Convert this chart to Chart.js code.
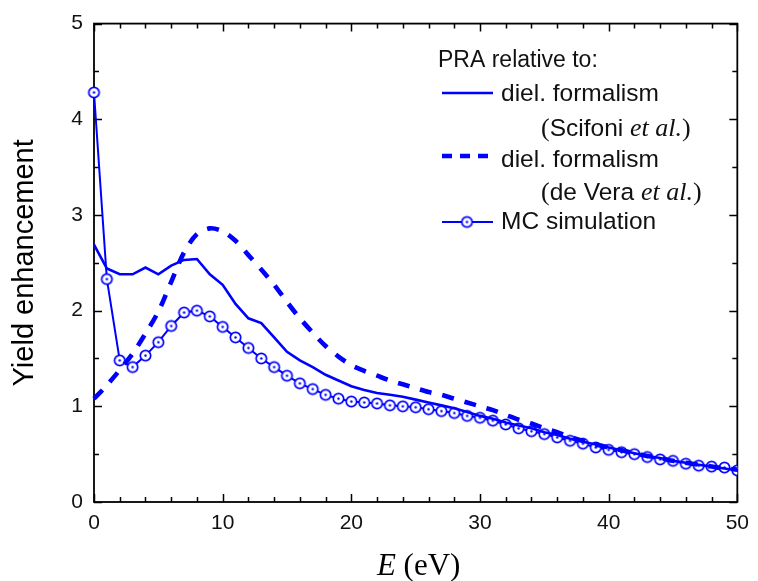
<!DOCTYPE html>
<html>
<head>
<meta charset="utf-8">
<script src="https://cdn.jsdelivr.net/npm/chart.js@4/dist/chart.umd.min.js"></script>
<style>
  html, body { margin: 0; padding: 0; background: #ffffff; }
  #wrap { width: 758px; height: 581px; }
</style>
</head>
<body>
<div id="wrap"><canvas id="chart" width="758" height="581"></canvas></div>
<script>
// Electron energy E (eV)
const energy = [0, 1, 2, 3, 4, 5, 6, 7, 8, 9, 10, 11, 12, 13, 14, 15, 16, 17, 18, 19, 20,
  21, 22, 23, 24, 25, 26, 27, 28, 29, 30, 31, 32, 33, 34, 35, 36, 37, 38, 39, 40,
  41, 42, 43, 44, 45, 46, 47, 48, 49, 50];

// PRA yield enhancement relative to the dielectric formalism (Scifoni et al.)
const scifoni = [2.69, 2.44, 2.38, 2.38, 2.45, 2.38, 2.47, 2.53, 2.54, 2.38, 2.27,
  2.07, 1.92, 1.87, 1.72, 1.57, 1.48, 1.41, 1.33, 1.27, 1.21,
  1.17, 1.14, 1.12, 1.10, 1.07, 1.04, 1.01, 0.98, 0.94, 0.90,
  0.87, 0.83, 0.80, 0.77, 0.73, 0.70, 0.66, 0.63, 0.60, 0.57,
  0.54, 0.51, 0.48, 0.46, 0.43, 0.41, 0.39, 0.37, 0.35, 0.33];

// PRA yield enhancement relative to the dielectric formalism (de Vera et al.)
const deVera = [1.08, 1.22, 1.38, 1.55, 1.76, 1.99, 2.30, 2.61, 2.80, 2.86, 2.83,
  2.73, 2.58, 2.43, 2.27, 2.09, 1.92, 1.77, 1.63, 1.52, 1.43,
  1.37, 1.32, 1.27, 1.23, 1.19, 1.15, 1.12, 1.08, 1.04, 1.00,
  0.96, 0.91, 0.86, 0.82, 0.77, 0.73, 0.68, 0.64, 0.60, 0.57,
  0.54, 0.51, 0.48, 0.46, 0.43, 0.41, 0.39, 0.37, 0.35, 0.34];

// PRA yield enhancement relative to the MC simulation
const mcSim = [4.28, 2.33, 1.48, 1.41, 1.53, 1.67, 1.84, 1.98, 2.00, 1.94, 1.83,
  1.72, 1.61, 1.50, 1.41, 1.32, 1.24, 1.18, 1.12, 1.08, 1.05,
  1.04, 1.03, 1.01, 1.00, 0.99, 0.97, 0.95, 0.93, 0.90, 0.88,
  0.85, 0.81, 0.77, 0.74, 0.71, 0.675, 0.64, 0.61, 0.57, 0.545,
  0.52, 0.50, 0.47, 0.445, 0.43, 0.40, 0.38, 0.37, 0.36, 0.33];

// Axis tick values
const xTickValues = [0, 10, 20, 30, 40, 50];
const yTickValues = [0, 1, 2, 3, 4, 5];
const xMinorStep = 2;
const yMinorStep = 0.5;

const BLUE = '#0000ff';
const SANS = '"Liberation Sans", Arial, sans-serif';
const SERIF = '"Liberation Serif", "Times New Roman", serif';

// Open circle with a centre dot, used as the MC point marker
function makeDotCircle(r) {
  const size = Math.ceil(2 * r + 4);
  const cv = document.createElement('canvas');
  cv.width = size; cv.height = size;
  const g = cv.getContext('2d');
  const c = size / 2;
  g.beginPath();
  g.arc(c, c, r, 0, Math.PI * 2);
  g.fillStyle = '#ffffff';
  g.fill();
  g.lineWidth = 1.7;
  g.strokeStyle = BLUE;
  g.stroke();
  g.beginPath();
  g.arc(c, c, 1.2, 0, Math.PI * 2);
  g.fillStyle = BLUE;
  g.fill();
  return cv;
}
const dotCircle = makeDotCircle(5.2);

const toPoints = (ys) => energy.map((x, i) => ({ x: x, y: ys[i] }));

// Frame with inward ticks on all four sides
const framePlugin = {
  id: 'frame',
  beforeDatasetsDraw(chart) {
    const { ctx, chartArea: a, scales: { x, y } } = chart;
    ctx.save();
    ctx.strokeStyle = '#000000';
    ctx.lineWidth = 1.5;
    ctx.beginPath();
    const xMin = x.min, xMax = x.max, yMin = y.min, yMax = y.max;
    for (let v = xMin; v <= xMax + 1e-9; v += xMinorStep) {
      const px = Math.round(x.getPixelForValue(v)) + 0.5;
      const len = xTickValues.includes(v) ? 8 : 5;
      ctx.moveTo(px, a.bottom); ctx.lineTo(px, a.bottom - len);
      ctx.moveTo(px, a.top); ctx.lineTo(px, a.top + len);
    }
    for (let v = yMin; v <= yMax + 1e-9; v += yMinorStep) {
      const py = Math.round(y.getPixelForValue(v)) + 0.5;
      const len = yTickValues.includes(v) ? 8 : 5;
      ctx.moveTo(a.left, py); ctx.lineTo(a.left + len, py);
      ctx.moveTo(a.right, py); ctx.lineTo(a.right - len, py);
    }
    ctx.stroke();
    ctx.lineWidth = 1.8;
    ctx.strokeRect(a.left, a.top, a.right - a.left, a.bottom - a.top);
    ctx.restore();
  }
};

// Draw a run of text pieces with their own fonts, starting at x
function drawRuns(ctx, runs, x, y) {
  let cx = x;
  for (const r of runs) {
    ctx.font = r.font;
    ctx.fillText(r.text, cx, y);
    cx += ctx.measureText(r.text).width;
  }
  return cx;
}
function runsWidth(ctx, runs) {
  let w = 0;
  for (const r of runs) { ctx.font = r.font; w += ctx.measureText(r.text).width; }
  return w;
}

// In-plot legend and the x-axis title
const legendPlugin = {
  id: 'innerLegend',
  afterDraw(chart) {
    const { ctx } = chart;
    const ds = chart.data.datasets;
    const head = '23px ' + SANS;
    const sans = '24.5px ' + SANS;
    const serif = '26px ' + SERIF;
    const italic = 'italic 26px ' + SERIF;
    ctx.save();
    ctx.fillStyle = '#111111';
    ctx.textBaseline = 'alphabetic';
    ctx.textAlign = 'left';

    ctx.font = head;
    ctx.fillText('PRA relative to:', 438, 67);

    const x0 = 442, x1 = 493, tx = 501, sub = 541;

    // solid line sample
    ctx.strokeStyle = ds[0].borderColor;
    ctx.lineWidth = ds[0].borderWidth;
    ctx.beginPath(); ctx.moveTo(x0, 93); ctx.lineTo(x1, 93); ctx.stroke();
    ctx.font = sans;
    ctx.fillText(ds[0].label, tx, 101);
    drawRuns(ctx, [
      { text: '(', font: serif }, { text: 'Scifoni ', font: sans },
      { text: 'et al.', font: italic }, { text: ')', font: serif }
    ], sub, 136);

    // dashed line sample
    ctx.strokeStyle = ds[1].borderColor;
    ctx.lineWidth = ds[1].borderWidth;
    ctx.setLineDash([10, 8]);
    ctx.beginPath(); ctx.moveTo(x0, 156); ctx.lineTo(x1 + 2, 156); ctx.stroke();
    ctx.setLineDash([]);
    ctx.font = sans;
    ctx.fillText(ds[1].label, tx, 167);
    drawRuns(ctx, [
      { text: '(', font: serif }, { text: 'de Vera ', font: sans },
      { text: 'et al.', font: italic }, { text: ')', font: serif }
    ], sub, 200);

    // line + marker sample
    ctx.strokeStyle = ds[2].borderColor;
    ctx.lineWidth = ds[2].borderWidth;
    ctx.beginPath(); ctx.moveTo(x0, 222); ctx.lineTo(x1, 222); ctx.stroke();
    ctx.drawImage(dotCircle, 467 - dotCircle.width / 2, 222 - dotCircle.height / 2);
    ctx.font = sans;
    ctx.fillText(ds[2].label, tx, 229);

    // x-axis title: E (eV)
    const titleRuns = [
      { text: 'E', font: 'italic 31px ' + SERIF },
      { text: ' (eV)', font: '31px ' + SERIF }
    ];
    const a = chart.chartArea;
    const w = runsWidth(ctx, titleRuns);
    ctx.fillStyle = '#000000';
    drawRuns(ctx, titleRuns, (a.left + a.right) / 2 - w / 2 + 3, 575);
    ctx.restore();
  }
};

new Chart(document.getElementById('chart'), {
  type: 'line',
  data: {
    datasets: [
      {
        label: 'diel. formalism',
        data: toPoints(scifoni),
        borderColor: BLUE,
        borderWidth: 2.6,
        pointRadius: 0,
        tension: 0,
        fill: false,
        clip: { left: 8, top: 8, right: 0, bottom: 8 }
      },
      {
        label: 'diel. formalism',
        data: toPoints(deVera),
        borderColor: BLUE,
        borderWidth: 4.6,
        borderDash: [12, 11],
        pointRadius: 0,
        tension: 0.3,
        fill: false,
        clip: { left: 8, top: 8, right: 0, bottom: 8 }
      },
      {
        label: 'MC simulation',
        data: toPoints(mcSim),
        borderColor: BLUE,
        borderWidth: 2,
        pointStyle: dotCircle,
        pointRadius: 5,
        tension: 0,
        fill: false,
        clip: { left: 8, top: 8, right: 0, bottom: 8 }
      }
    ]
  },
  options: {
    responsive: false,
    animation: false,
    devicePixelRatio: 1,
    layout: { padding: { left: 0, top: 18, right: 14, bottom: 0 } },
    plugins: {
      legend: { display: false },
      tooltip: { enabled: false }
    },
    scales: {
      x: {
        type: 'linear',
        min: 0,
        max: 50,
        afterFit(scale) { scale.height = 79; },
        afterBuildTicks(scale) { scale.ticks = xTickValues.map(v => ({ value: v })); },
        ticks: {
          color: '#111111',
          font: { family: SANS, size: 21 },
          padding: 9,
          maxRotation: 0
        },
        grid: { display: false, drawTicks: false },
        border: { display: false }
      },
      y: {
        type: 'linear',
        min: 0,
        max: 5,
        afterFit(scale) { scale.width = 94; },
        afterBuildTicks(scale) { scale.ticks = yTickValues.map(v => ({ value: v })); },
        ticks: {
          color: '#111111',
          font: { family: SANS, size: 21 },
          padding: 11
        },
        grid: { display: false, drawTicks: false },
        border: { display: false },
        title: {
          display: true,
          text: 'Yield enhancement',
          color: '#000000',
          font: { family: SANS, size: 29 },
          padding: { top: 8, bottom: 0 }
        }
      }
    }
  },
  plugins: [framePlugin, legendPlugin]
});
</script>
</body>
</html>
